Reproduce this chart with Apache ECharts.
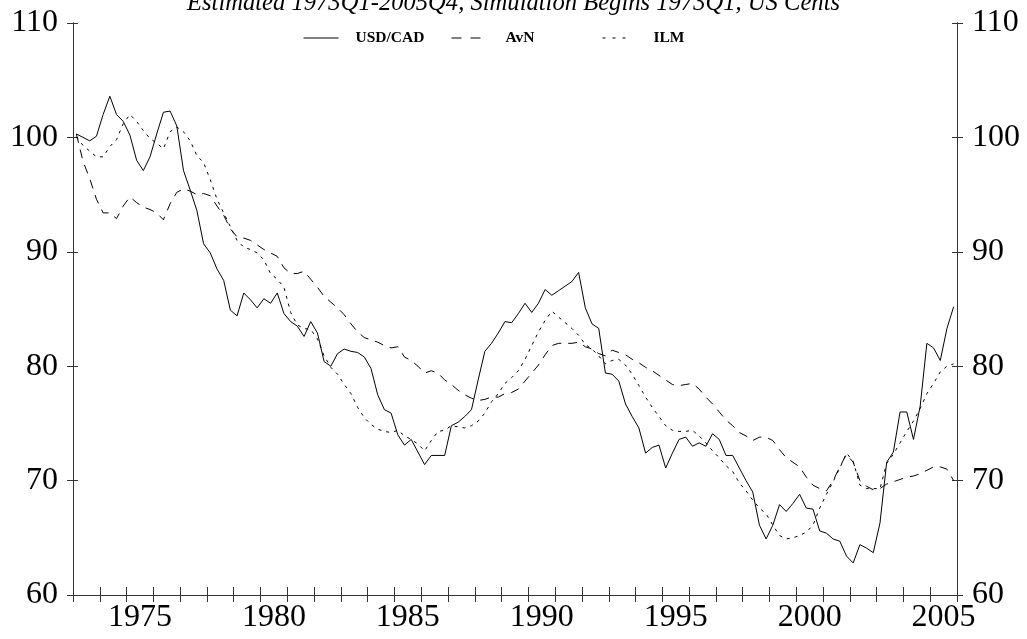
<!DOCTYPE html>
<html>
<head>
<meta charset="utf-8">
<script src="https://cdn.jsdelivr.net/npm/echarts@6/dist/echarts.min.js"></script>
<style>
  html, body { margin: 0; padding: 0; background: #fff; }
  #chart { width: 1027px; height: 639px; }
</style>
</head>
<body>
<div id="chart"></div>
<script>
// quarterly data, 1973Q1 .. 2005Q4, US cents per CAD
const startYear = 1973
const endYear = 2006
const labelYears = [1975, 1980, 1985, 1990, 1995, 2000, 2005]

const usdcad = [
  100.3, 100.0, 99.7, 100.1, 102.0, 103.6, 102.0, 101.4, 100.2, 98.0, 97.1, 98.3,
  100.3, 102.2, 102.3, 101.0, 97.1, 95.4, 93.6, 90.7, 89.9, 88.5, 87.5, 84.9,
  84.4, 86.4, 85.8, 85.1, 85.9, 85.5, 86.4, 84.6, 83.9, 83.5, 82.6, 83.9,
  82.9, 80.4, 80.0, 81.1, 81.5, 81.3, 81.2, 80.8, 79.8, 77.5, 76.2, 75.9,
  74.0, 73.1, 73.6, 72.5, 71.4, 72.2, 72.2, 72.2, 74.8, 75.1, 75.6, 76.2,
  78.8, 81.3, 82.0, 82.9, 83.9, 83.8, 84.6, 85.5, 84.7, 85.5, 86.7, 86.2,
  86.6, 87.0, 87.4, 88.2, 85.1, 83.7, 83.3, 79.4, 79.3, 78.7, 76.7, 75.6,
  74.6, 72.4, 72.9, 73.1, 71.1, 72.4, 73.6, 73.8, 73.0, 73.3, 73.0, 74.1,
  73.6, 72.2, 72.2, 71.1, 70.0, 69.0, 66.1, 64.9, 66.1, 67.9, 67.3, 68.0,
  68.8, 67.6, 67.5, 65.6, 65.4, 64.9, 64.7, 63.4, 62.8, 64.4, 64.1, 63.7,
  66.3, 71.6, 72.5, 76.0, 76.0, 73.6, 76.5, 82.0, 81.6, 80.5, 83.3, 85.2
]

const avn = [
  100.3, 97.9, 96.4, 94.6, 93.4, 93.4, 92.9, 94.0, 94.8, 94.3, 93.9, 93.7,
  93.4, 92.8, 94.2, 95.2, 95.5, 95.3, 95.0, 95.1, 94.9, 94.0, 93.2, 92.0,
  91.3, 91.2, 91.0, 90.6, 90.2, 89.9, 89.6, 88.6, 88.1, 88.1, 88.3, 87.6,
  86.9, 86.1, 85.6, 85.1, 84.5, 83.7, 83.0, 82.5, 82.3, 82.1, 81.8, 81.6,
  81.7, 80.8, 80.5, 80.0, 79.4, 79.6, 79.4, 78.8, 78.4, 77.9, 77.5, 77.2,
  77.0, 77.1, 77.3, 77.3, 77.6, 77.7, 78.0, 78.7, 79.4, 80.1, 81.0, 81.8,
  82.0, 82.0, 82.0, 82.1, 81.7, 81.5, 81.1, 80.9, 81.4, 81.2, 81.0, 80.6,
  80.3, 79.9, 79.6, 79.2, 78.8, 78.4, 78.3, 78.4, 78.5, 78.0, 77.3, 76.7,
  76.0, 75.3, 74.8, 74.2, 73.9, 73.5, 73.8, 73.8, 73.5, 72.7, 72.0, 71.6,
  71.2, 70.3, 69.6, 69.3, 69.1, 70.0, 71.2, 72.3, 71.6, 70.0, 69.5, 69.2,
  69.3, 69.7, 69.9, 70.1, 70.3, 70.4, 70.6, 70.9, 71.2, 71.2, 71.0, 70.0
]

const ilm = [
  100.05, 99.3, 98.8, 98.3, 98.3, 99.2, 99.8, 101.2, 102.0, 101.4, 100.6, 99.9,
  99.5, 99.0, 100.5, 100.9, 100.5, 99.7, 98.4, 97.8, 96.3, 94.6, 93.4, 92.2,
  91.0, 90.4, 90.2, 89.9, 89.3, 88.1, 87.6, 86.9, 84.7, 83.6, 83.3, 83.2,
  82.4, 80.9, 79.9, 79.3, 78.4, 77.6, 76.4, 75.5, 74.9, 74.5, 74.3, 74.2,
  74.4, 73.9, 73.6, 73.2, 72.6, 73.5, 74.3, 74.4, 74.8, 74.7, 74.6, 74.8,
  75.2, 75.9, 76.9, 77.6, 78.5, 79.0, 79.6, 80.6, 81.8, 83.0, 84.0, 84.8,
  84.3, 83.8, 83.3, 82.7, 81.9, 81.5, 80.9, 80.2, 80.5, 80.6, 80.1, 79.3,
  78.3, 77.3, 76.4, 75.6, 74.8, 74.4, 74.3, 74.3, 74.4, 73.9, 73.3, 72.6,
  72.0, 71.3, 70.8, 69.8, 69.1, 68.3, 67.6, 67.1, 66.1, 65.2, 64.9, 65.0,
  65.2, 65.5, 66.1, 67.6, 68.8, 69.9, 71.1, 72.4, 71.7, 69.6, 69.3, 69.3,
  69.3, 71.5, 72.3, 73.3, 74.3, 75.2, 76.3, 77.6, 78.5, 79.5, 80.0, 80.2
]

const serif = 'Liberation Serif'
const ink = '#000'
const axisInk = '#333'

// quarter i is drawn in the middle of its quarter
const toPoints = arr => arr.map((v, i) => [startYear + (i + 0.5) / 4, v])
const yearTicks = []
for (let y = startYear; y <= endYear; y++) yearTicks.push(y)

const chart = echarts.init(document.getElementById('chart'))

const xBase = {
  type: 'value',
  min: startYear,
  max: endYear,
  position: 'bottom',
  splitLine: { show: false },
  axisLine: { show: true, lineStyle: { color: axisInk, width: 1 } }
}
const yBase = {
  type: 'value',
  min: 60,
  max: 110,
  interval: 10,
  splitLine: { show: false },
  axisLine: { show: true, lineStyle: { color: axisInk, width: 1 } }
}
const yLabel = {
  color: ink,
  fontFamily: serif,
  fontSize: 32,
  margin: 15
}

function legendFor(name, left, gap, dash) {
  return {
    data: [name],
    left: left,
    top: 30,
    padding: 0,
    itemWidth: dash === 'solid' ? 35 : 29,
    itemHeight: 14,
    lineStyle: { type: dash, width: 1, color: ink },
    itemStyle: { opacity: 0, color: 'transparent', borderWidth: 0 },
    selectedMode: false,
    textStyle: {
      color: ink,
      fontFamily: serif,
      fontWeight: 'bold',
      fontSize: 15.5,
      padding: [0, 0, 0, gap]
    }
  }
}

const option = {
  backgroundColor: '#fff',
  animation: false,
  title: {
    text: 'Estimated 1973Q1-2005Q4, Simulation Begins 1973Q1, US Cents',
    left: 'center',
    top: -9,
    padding: 0,
    textStyle: {
      color: ink,
      fontFamily: serif,
      fontStyle: 'italic',
      fontWeight: 'normal',
      fontSize: 24.6
    }
  },
  legend: [
    legendFor('USD/CAD', 303, 12, 'solid'),
    legendFor('AvN', 451, 20, [10, 9]),
    legendFor('ILM', 602, 17, [3, 7])
  ],
  grid: { left: 73, right: 70, top: 23, bottom: 44, containLabel: false },
  xAxis: [
    Object.assign({}, xBase, {
      axisTick: { show: true, customValues: yearTicks, length: 7, lineStyle: { color: axisInk } },
      axisLabel: {
        customValues: labelYears.map(y => y + 0.5),
        formatter: v => String(Math.floor(v)),
        color: ink,
        fontFamily: serif,
        fontSize: 32,
        margin: 7
      }
    }),
    Object.assign({}, xBase, {
      axisTick: { show: true, inside: true, customValues: yearTicks, length: 8, lineStyle: { color: axisInk } },
      axisLabel: { show: false }
    })
  ],
  yAxis: [
    Object.assign({}, yBase, {
      position: 'left',
      axisTick: { show: true, length: 6, lineStyle: { color: axisInk } },
      axisLabel: yLabel
    }),
    Object.assign({}, yBase, {
      position: 'left',
      axisTick: { show: true, inside: true, length: 5, lineStyle: { color: axisInk } },
      axisLabel: { show: false }
    }),
    Object.assign({}, yBase, {
      position: 'right',
      axisTick: { show: true, length: 6, lineStyle: { color: axisInk } },
      axisLabel: yLabel
    }),
    Object.assign({}, yBase, {
      position: 'right',
      axisTick: { show: true, inside: true, length: 5, lineStyle: { color: axisInk } },
      axisLabel: { show: false }
    })
  ],
  series: [
    {
      name: 'USD/CAD',
      type: 'line',
      data: toPoints(usdcad),
      symbol: 'none',
      lineStyle: { color: ink, width: 1, type: 'solid' },
      itemStyle: { color: ink }
    },
    {
      name: 'AvN',
      type: 'line',
      data: toPoints(avn),
      symbol: 'none',
      lineStyle: { color: ink, width: 1, type: [9, 7] },
      itemStyle: { color: ink }
    },
    {
      name: 'ILM',
      type: 'line',
      data: toPoints(ilm),
      symbol: 'none',
      lineStyle: { color: ink, width: 1, type: [3, 5] },
      itemStyle: { color: ink }
    }
  ]
}

chart.setOption(option)
</script>
</body>
</html>
